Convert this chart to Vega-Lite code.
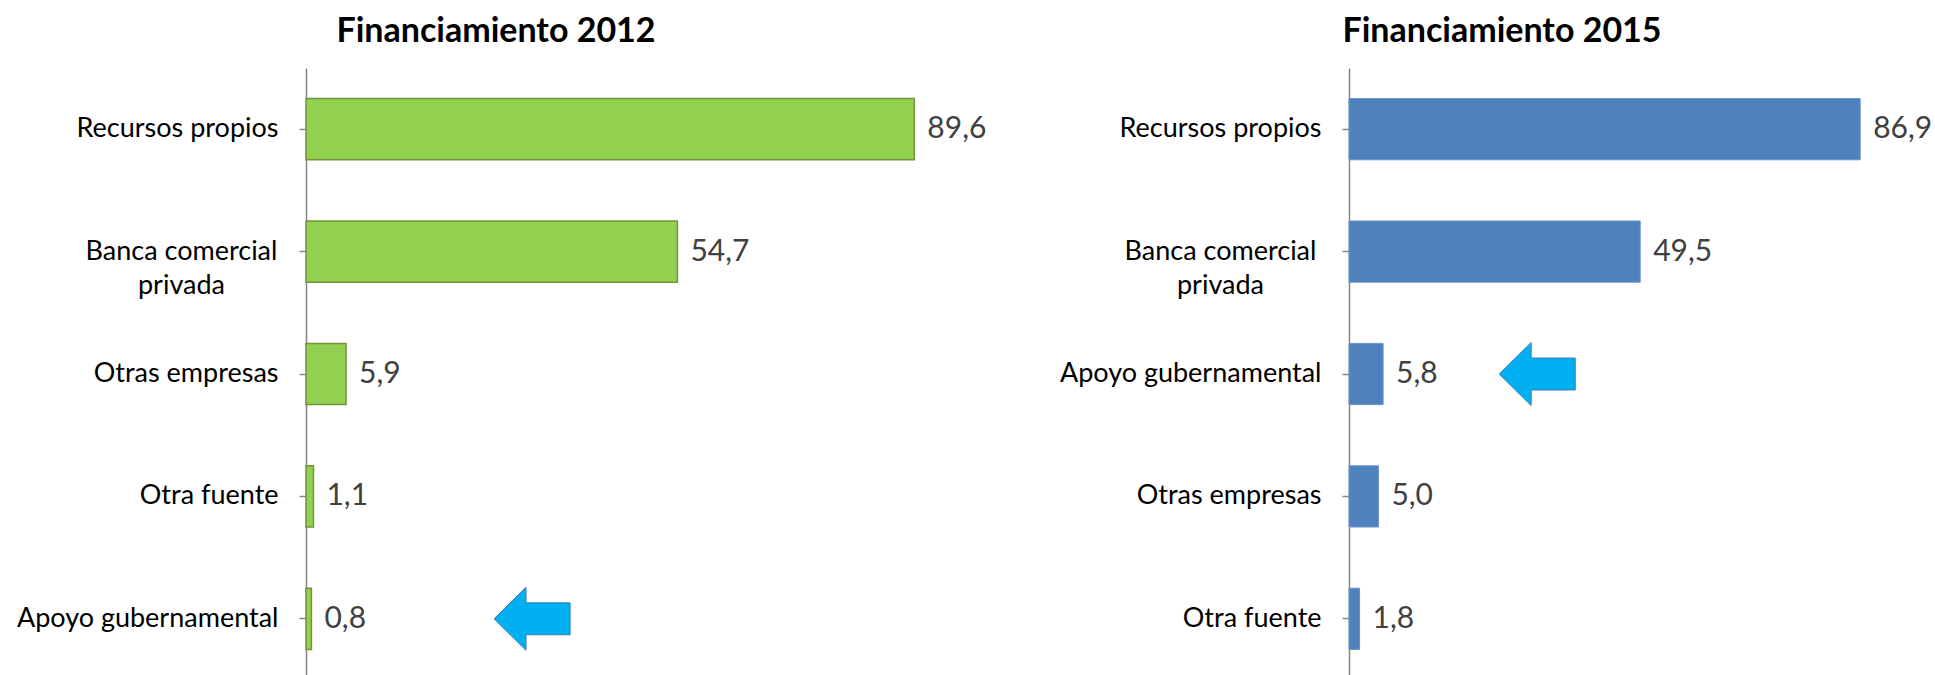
{
  "$schema": "https://vega.github.io/schema/vega-lite/v6.json",
  "background": "white",
  "padding": {"left": 0, "top": 15, "right": 0, "bottom": 0},
  "spacing": 0,
  "config": {
    "view": {"stroke": null},
    "font": "Lato",
    "locale": {"number": {"decimal": ",", "thousands": ".", "grouping": [3], "currency": ["", " €"]}},
    "axisY": {
      "domainColor": "#868686", "domainWidth": 1.5,
      "tickColor": "#868686", "tickWidth": 1.5, "tickSize": 7,
      "labelFont": "Lato", "labelFontSize": 27, "labelColor": "#000000",
      "labelLineHeight": 34, "labelLimit": 400,
      "title": null, "grid": false
    },
    "title": {"font": "Lato", "fontSize": 34, "fontWeight": "bold", "color": "#000000"}
  },
  "datasets": {
    "d2012": [
      {"categoria": "Recursos propios", "valor": 89.6},
      {"categoria": "Banca comercial privada", "valor": 54.7},
      {"categoria": "Otras empresas", "valor": 5.9},
      {"categoria": "Otra fuente", "valor": 1.1},
      {"categoria": "Apoyo gubernamental", "valor": 0.8}
    ],
    "d2015": [
      {"categoria": "Recursos propios", "valor": 86.9},
      {"categoria": "Banca comercial privada", "valor": 49.5},
      {"categoria": "Apoyo gubernamental", "valor": 5.8},
      {"categoria": "Otras empresas", "valor": 5.0},
      {"categoria": "Otra fuente", "valor": 1.8}
    ]
  },
  "hconcat": [
    {
      "width": 700,
      "height": 612,
      "data": {"name": "d2012"},
      "title": {"text": "Financiamiento 2012", "anchor": "middle", "dx": -160, "offset": 19},
      "encoding": {
        "y": {
          "field": "categoria", "type": "nominal",
          "sort": ["Recursos propios", "Banca comercial privada", "Otras empresas", "Otra fuente", "Apoyo gubernamental"],
          "scale": {"paddingInner": 0.5, "paddingOuter": 0.25},
          "axis": {
            "minExtent": 306, "maxExtent": 306,
            "labelExpr": "datum.value == 'Banca comercial privada' ? ['Banca comercial', 'privada'] : datum.value",
            "labelAlign": {"condition": {"test": "datum.value == 'Banca comercial privada'", "value": "center"}, "value": "right"},
            "labelPadding": {"condition": {"test": "datum.value == 'Banca comercial privada'", "value": 118}, "value": 21}
          }
        }
      },
      "layer": [
        {
          "mark": {"type": "bar", "color": "#92D050", "stroke": "#76933C", "strokeWidth": 1.5},
          "encoding": {"x": {"field": "valor", "type": "quantitative", "scale": {"domain": [0, 103.1], "nice": false}, "axis": null}}
        },
        {
          "mark": {"type": "text", "align": "left", "baseline": "middle", "dx": 13, "fontSize": 30, "color": "#404040", "font": "Lato"},
          "encoding": {
            "x": {"field": "valor", "type": "quantitative"},
            "text": {"field": "valor", "type": "quantitative", "format": ".1f"}
          }
        },
        {
          "transform": [{"filter": "datum.categoria == 'Apoyo gubernamental'"}],
          "mark": {"type": "point", "filled": true, "shape": "M -1 0 L -0.16 -0.83 L -0.16 -0.42 L 1 -0.42 L 1 0.42 L -0.16 0.42 L -0.16 0.83 Z", "size": 5776, "fill": "#00B0F0", "stroke": "#3A78B8", "strokeWidth": 1, "opacity": 1},
          "encoding": {"x": {"datum": 33.3, "type": "quantitative"}}
        }
      ]
    },
    {
      "width": 570,
      "height": 612,
      "data": {"name": "d2015"},
      "title": {"text": "Financiamiento 2015", "anchor": "middle", "dx": -132, "offset": 19},
      "encoding": {
        "y": {
          "field": "categoria", "type": "nominal",
          "sort": ["Recursos propios", "Banca comercial privada", "Apoyo gubernamental", "Otras empresas", "Otra fuente"],
          "scale": {"paddingInner": 0.5, "paddingOuter": 0.25},
          "axis": {
            "minExtent": 343, "maxExtent": 343,
            "labelExpr": "datum.value == 'Banca comercial privada' ? ['Banca comercial', 'privada'] : datum.value",
            "labelAlign": {"condition": {"test": "datum.value == 'Banca comercial privada'", "value": "center"}, "value": "right"},
            "labelPadding": {"condition": {"test": "datum.value == 'Banca comercial privada'", "value": 122}, "value": 21}
          }
        }
      },
      "layer": [
        {
          "mark": {"type": "bar", "color": "#4F81BD", "stroke": "#6A93C8", "strokeWidth": 1},
          "encoding": {"x": {"field": "valor", "type": "quantitative", "scale": {"domain": [0, 96.9], "nice": false}, "axis": null}}
        },
        {
          "mark": {"type": "text", "align": "left", "baseline": "middle", "dx": 13, "fontSize": 30, "color": "#404040", "font": "Lato"},
          "encoding": {
            "x": {"field": "valor", "type": "quantitative"},
            "text": {"field": "valor", "type": "quantitative", "format": ".1f"}
          }
        },
        {
          "transform": [{"filter": "datum.categoria == 'Apoyo gubernamental'"}],
          "mark": {"type": "point", "filled": true, "shape": "M -1 0 L -0.16 -0.83 L -0.16 -0.42 L 1 -0.42 L 1 0.42 L -0.16 0.42 L -0.16 0.83 Z", "size": 5776, "fill": "#00B0F0", "stroke": "#3A78B8", "strokeWidth": 1, "opacity": 1},
          "encoding": {"x": {"datum": 32, "type": "quantitative"}}
        }
      ]
    }
  ]
}
